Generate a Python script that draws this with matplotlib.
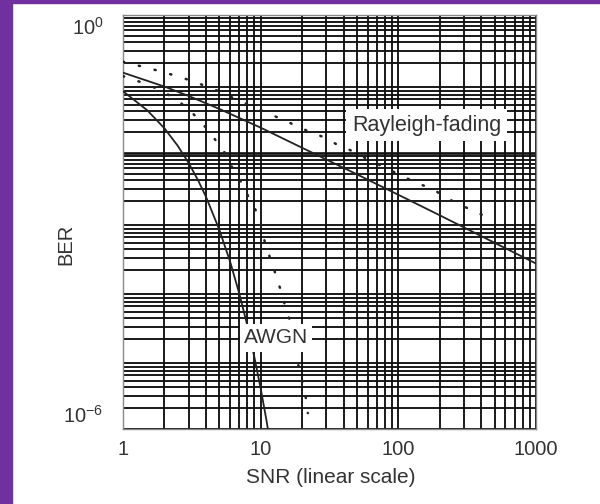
import matplotlib
matplotlib.use("Agg")
import matplotlib.pyplot as plt
from matplotlib.patches import Rectangle
from matplotlib.transforms import ScaledTranslation
from matplotlib.ticker import LogLocator, NullFormatter

plt.rcParams['font.family'] = ['Liberation Sans', 'DejaVu Sans']
plt.rcParams['mathtext.fontset'] = 'custom'
plt.rcParams['mathtext.rm'] = 'Liberation Sans'
plt.rcParams['mathtext.it'] = 'Liberation Sans'
plt.rcParams['mathtext.default'] = 'regular'

# ---- data ----
snr_awgn = [1, 1.5, 2, 2.5, 3, 3.5, 4, 5, 6, 7, 8, 9, 10, 11, 12]
ber_awgn = [0.0786, 0.0416, 0.0228, 0.0127, 0.00715, 0.00407, 0.00234, 7.8e-4,
            2.66e-4, 9.1e-5, 3.17e-5, 1.1e-5, 3.87e-6, 1.36e-6, 4.8e-7]

snr_ray = [1, 2, 3, 5, 10, 20, 50, 100, 200, 500, 1000]
ber_ray = [0.146, 0.0918, 0.0670, 0.0436, 0.0233, 0.0119, 0.00491, 0.00248,
           0.00125, 0.0005, 0.00025]

snr_awgn_dot = [1, 1.5, 2, 2.52, 3.03, 3.65, 4.24, 4.94, 5.65, 6.35, 7.27, 8.17,
                9.2, 10, 10.5, 11.4, 12.4, 13.3, 14.5, 15.2, 16.6, 18.0, 19.0, 21.3, 22]
ber_awgn_dot = [0.13, 0.099, 0.076, 0.0568, 0.042, 0.0291, 0.0201, 0.0135, 0.0093,
                0.0056, 0.0037, 0.0023, 0.00148, 9.3e-4, 5.9e-4, 3.5e-4, 2.2e-4,
                1.35e-4, 8.7e-5, 5.2e-5, 3.5e-5, 1.3e-5, 7.5e-6, 2.8e-6, 1.7e-6]

snr_ray_dot = [1, 1.33, 1.71, 2.17, 2.74, 3.47, 4.39, 6.57, 10, 15.2, 22.0, 28.4,
               35.3, 44.7, 55.6, 110.6, 140, 174, 217, 274, 341, 424, 480]
ber_ray_dot = [0.21, 0.182, 0.160, 0.140, 0.122, 0.103, 0.0875, 0.0607, 0.042,
               0.0291, 0.0208, 0.0171, 0.0135, 0.0110, 0.00875, 0.00449, 0.00356,
               0.00311, 0.00230, 0.00182, 0.00149, 0.00122, 0.00108]

xticks = [1, 10, 100, 1000]
xticklabels = ["1", "10", "100", "1000"]
yticks = [1e0, 1e-6]
yticklabels = ["$10^{0}$", "$10^{-6}$"]

fig = plt.figure(figsize=(6, 5.04), dpi=100)
fig.patch.set_facecolor('white')
# purple frame strips (left and top)
fig.patches.append(Rectangle((0, 0), 12/600, 1, transform=fig.transFigure,
                             color='#7030A0', zorder=0))
fig.patches.append(Rectangle((0, 1-3/504), 1, 3/504, transform=fig.transFigure,
                             color='#7030A0', zorder=0))

ax = fig.add_axes([123/600, 1-429/504, 413/600, 414/504])
ax.set_xscale('log')
ax.set_yscale('log')
ax.set_xlim(1, 1000)
ax.set_ylim(1e-6, 1)

ax.xaxis.set_minor_locator(LogLocator(base=10, subs=range(2, 10)))
ax.yaxis.set_minor_locator(LogLocator(base=10, subs=range(2, 10), numticks=20))
ax.yaxis.set_major_locator(LogLocator(base=10, numticks=20))
ax.xaxis.set_minor_formatter(NullFormatter())
ax.yaxis.set_minor_formatter(NullFormatter())
ax.grid(True, which='both', color='#111111', linewidth=1.35)
ax.set_axisbelow(True)
ax.axhline(1e-2, color='#111111', linewidth=1.9, zorder=1)

ax.plot(snr_awgn, ber_awgn, color='#222222', linewidth=1.3, zorder=3)
ax.plot(snr_ray, ber_ray, color='#222222', linewidth=1.3, zorder=3)
ax.plot(snr_awgn_dot, ber_awgn_dot, color='#222222', linewidth=1.8,
        linestyle=(0, (0.5, 6)), dash_capstyle='round', zorder=3)
ax.plot(snr_ray_dot, ber_ray_dot, color='#222222', linewidth=1.8,
        linestyle=(0, (0.5, 6)), dash_capstyle='round', zorder=3)

ax.set_xticks(xticks)
ax.set_xticklabels(xticklabels)
ax.set_yticks(yticks)
ax.set_yticklabels(yticklabels)
ax.tick_params(axis='both', which='both', length=0, colors='#333333')
ax.tick_params(axis='x', pad=8, labelsize=14.5)
ax.tick_params(axis='y', pad=14, labelsize=14.5)
labs = ax.get_yticklabels()
labs[0].set_transform(labs[0].get_transform() + ScaledTranslation(0, -11/100, fig.dpi_scale_trans))
labs[1].set_transform(labs[1].get_transform() + ScaledTranslation(0, 15/100, fig.dpi_scale_trans))

for s in ax.spines.values():
    s.set_color('#888888')
    s.set_linewidth(1.0)

ax.set_xlabel("SNR (linear scale)", fontsize=15, color='#333333')
ax.xaxis.set_label_coords(0.502, -0.095)
ax.set_ylabel("BER", fontsize=14.5, color='#333333')
ax.yaxis.set_label_coords(-0.115, 0.445)

ax.text(0.735, 0.734, "Rayleigh-fading", transform=ax.transAxes, fontsize=15.5,
        color='#333333', ha='center', va='center', zorder=5,
        bbox=dict(facecolor='white', edgecolor='none', pad=4))
ax.text(0.37, 0.22, "AWGN", transform=ax.transAxes, fontsize=15,
        color='#333333', ha='center', va='center', zorder=5,
        bbox=dict(facecolor='white', edgecolor='none', pad=3))

fig.savefig("out.png", dpi=100)
